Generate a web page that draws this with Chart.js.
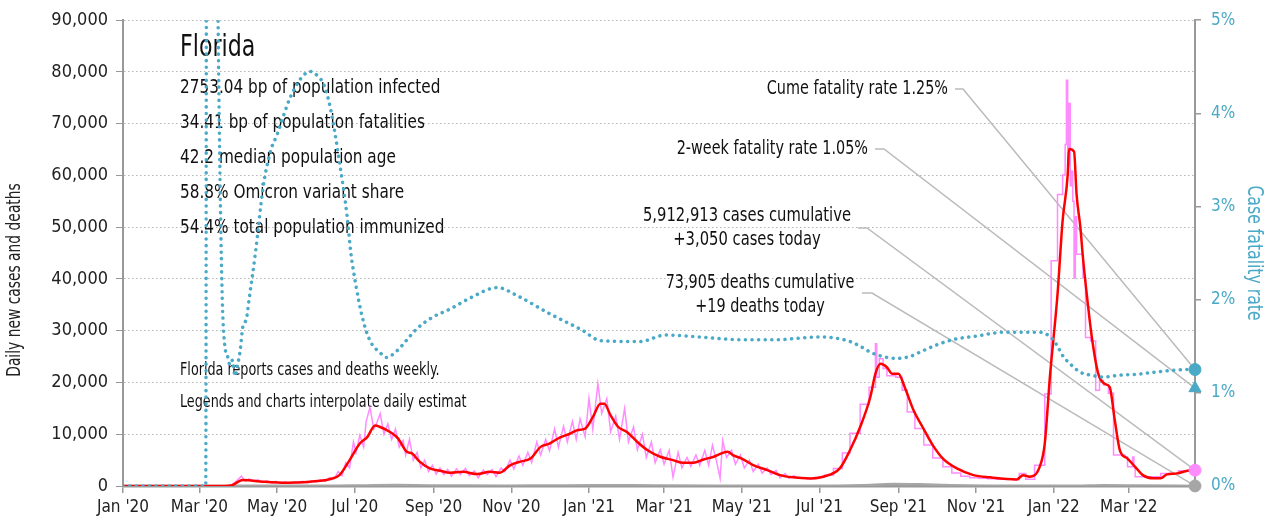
<!DOCTYPE html>
<html>
<head>
<meta charset="utf-8">
<script src="https://cdn.jsdelivr.net/npm/chart.js@4.4.0/dist/chart.umd.min.js"></script>
<style>
  html, body { margin: 0; padding: 0; background: #fff; }
</style>
</head>
<body>
<canvas id="flChart" width="1281" height="526"></canvas>
<script>
// all x values are days counted from 1 Jan 2020
const tickDates = ['2020-01-01', '2020-03-01', '2020-05-01', '2020-07-01', '2020-09-01', '2020-11-01',
  '2021-01-01', '2021-03-01', '2021-05-01', '2021-07-01', '2021-09-01', '2021-11-01',
  '2022-01-01', '2022-03-01'];
const tickLabels = ["Jan '20", "Mar '20", "May '20", "Jul '20", "Sep '20", "Nov '20",
  "Jan '21", "Mar '21", "May '21", "Jul '21", "Sep '21", "Nov '21",
  "Jan '22", "Mar '22"];
const lastDay = 842;

// daily new cases, noisy part (until June 2021)
const dailyDays = [
  0, 80, 82, 86, 90, 93, 96, 99, 103, 106,
  110, 113, 117, 120, 124, 127, 131, 134, 138, 141,
  145, 148, 152, 155, 159, 162, 166, 169, 172, 175,
  178, 181, 183, 186, 189, 191, 194, 197, 199, 202,
  205, 208, 211, 214, 217, 220, 222, 225, 228, 231,
  234, 237, 240, 243, 246, 249, 252, 255, 258, 262,
  265, 269, 272, 276, 279, 283, 286, 290, 293, 297,
  300, 304, 307, 311, 314, 318, 321, 325, 328, 332,
  335, 339, 342, 346, 349, 353, 356, 359, 363, 366,
  369, 373, 376, 380, 383, 387, 390, 394, 397, 401,
  404, 408, 411, 415, 418, 422, 425, 429, 432, 436,
  439, 443, 446, 450, 453, 457, 460, 463, 466, 469,
  471, 474, 478, 481, 485, 488, 492, 495, 499, 502,
  506, 509, 513, 516, 520, 523, 527, 530];
const dailyCases = [
  0, 0, 0, 300, 1200, 1900, 900, 1400, 1000, 1200,
  700, 1000, 600, 900, 500, 800, 500, 700, 600, 900,
  600, 1000, 800, 1200, 900, 1600, 1400, 2800, 2000, 4500,
  3500, 8500, 6500, 9800, 7500, 12500, 15200, 11000, 12000, 14000,
  10000, 12000, 9000, 11000, 7500, 8800, 6000, 9000, 5000, 6500,
  3500, 5000, 2800, 4000, 2300, 3500, 2200, 3200, 1900, 3300,
  2200, 3400, 2000, 2900, 1600, 3100, 2200, 3200, 1800, 3500,
  2800, 5000, 3300, 5800, 4000, 6500, 4500, 8500, 6000, 9000,
  6800, 11000, 7500, 11500, 8500, 12500, 9000, 13000, 9500, 16900,
  11000, 19800, 14000, 16900, 10500, 13500, 9000, 15000, 8500, 11400,
  7000, 10000, 5500, 8500, 4500, 7000, 4200, 6900, 1700, 6500,
  3500, 5500, 3800, 6000, 4000, 6900, 4000, 7900, 5000, 1500,
  8800, 5500, 6900, 4200, 6000, 3500, 5000, 2800, 4200, 2500,
  3500, 2200, 3000, 1600, 2400, 1500, 2000, 1400];

// daily new cases after the switch to weekly reporting (step values)
const weeklyDays = [
  530, 537, 544, 551, 558, 565, 571, 579, 586, 591,
  592, 594, 597, 600, 607, 612, 616, 622, 629, 636,
  644, 651, 658, 665, 672, 679, 686, 693, 700, 704,
  709, 716, 724, 729, 734, 738, 740, 741, 742, 743,
  744, 745, 746, 747, 748, 749, 754, 756, 760, 764,
  767, 770, 774, 778, 787, 789, 793, 794, 795, 815,
  829, 842];
const weeklyCases = [
  1500, 1400, 1700, 2100, 3400, 6400, 10200, 15800, 19100, 27500,
  21000, 24600, 22700, 21300, 21000, 18500, 14300, 11100, 7900, 5400,
  3700, 2500, 1900, 1600, 1500, 1400, 1300, 1300, 1200, 2400,
  1300, 4000, 17800, 43500, 56300, 60100, 66000, 78400, 62000, 73900,
  58000, 60800, 55000, 40200, 52000, 44800, 40200, 28700, 28000, 18500,
  20400, 19500, 17900, 6000, 5600, 3700, 5600, 3700, 1800, 2400,
  2940, 3050];

// 7-day average of new cases
const avgDays = [
  0, 80, 85, 94, 110, 129, 155, 163, 170, 178,
  186, 192, 198, 202, 210, 216, 223, 227, 233, 241,
  249, 257, 267, 278, 288, 296, 304, 312, 320, 328,
  335, 343, 351, 357, 363, 369, 375, 378, 383, 389,
  396, 404, 412, 422, 432, 440, 448, 456, 464, 471,
  475, 479, 486, 495, 506, 516, 526, 540, 550, 563,
  571, 579, 587, 591, 595, 600, 604, 609, 614, 621,
  628, 636, 644, 655, 668, 681, 702, 707, 712, 720,
  724, 728, 734, 738, 742, 743, 747, 749, 752, 754,
  757, 761, 766, 771, 775, 779, 783, 789, 795, 801,
  809, 815, 820, 828, 836, 842];
const avgCases = [
  0, 0, 100, 1150, 830, 630, 1000, 1350, 2100, 5000,
  8200, 9500, 11700, 11400, 10400, 9200, 6600, 6300, 4700, 3400,
  2950, 2560, 2750, 2300, 2750, 2560, 4000, 4700, 5300, 7560,
  8200, 9350, 10100, 10800, 11100, 13300, 15900, 15900, 13650, 11400,
  10400, 8500, 6900, 5650, 5000, 4480, 4480, 5130, 5650, 6400,
  6600, 5960, 5300, 4040, 3080, 2100, 1670, 1470, 1800, 3400,
  6900, 11400, 17200, 21700, 23600, 22950, 21700, 21700, 19100, 14600,
  11400, 7900, 5300, 3400, 2100, 1670, 1280, 2100, 1800, 3700,
  8200, 21000, 37000, 51200, 60100, 65100, 64600, 56300, 49900, 44100,
  37000, 28700, 21700, 19750, 19100, 12700, 6900, 5300, 3700, 2100,
  1480, 1480, 2250, 2440, 2940, 3050];

// daily deaths
const deathDays = [0, 70, 90, 120, 160, 190, 215, 240, 270, 300,
  330, 370, 400, 430, 470, 500, 540, 580, 605, 625,
  650, 680, 720, 750, 770, 800, 842];
const deaths = [0, 0, 40, 50, 40, 120, 180, 120, 80, 60,
  90, 140, 150, 90, 60, 50, 40, 150, 380, 320,
  150, 60, 40, 60, 150, 90, 19];

// case fatality rate, percent (right axis)
const cfrDays = [
  0, 65, 66, 72, 74, 76, 78, 80, 82, 84,
  86, 88, 90, 92, 94, 97, 99, 104, 110, 116,
  121, 131, 140, 147, 153, 158, 163, 170, 176, 179,
  183, 188, 194, 202, 207, 215, 231, 243, 257, 273,
  294, 310, 335, 361, 375, 406, 426, 453, 485, 512,
  547, 569, 579, 588, 600, 608, 618, 628, 642, 655,
  671, 691, 720, 730, 734, 738, 744, 752, 760, 770,
  783, 797, 809, 823, 838, 842];
const cfr = [
  0, 0, 12, 10, 6, 3.5, 2.0, 1.5, 1.4, 1.3,
  1.35, 1.18, 1.3, 1.45, 1.7, 1.8, 2.0, 2.5, 3.2, 3.6,
  3.77, 4.16, 4.38, 4.45, 4.4, 4.3, 4.05, 3.48, 2.9, 2.5,
  2.15, 1.81, 1.56, 1.43, 1.38, 1.45, 1.69, 1.81, 1.9, 2.02,
  2.13, 2.04, 1.85, 1.67, 1.56, 1.55, 1.62, 1.6, 1.57, 1.57,
  1.6, 1.56, 1.5, 1.43, 1.38, 1.37, 1.39, 1.45, 1.53, 1.58,
  1.61, 1.65, 1.65, 1.58, 1.5, 1.4, 1.31, 1.22, 1.19, 1.17,
  1.19, 1.2, 1.22, 1.24, 1.25, 1.25];

// latest figures
const cumeCfr = 1.25;
const twoWeekCfr = 1.05;
const casesCumulative = 5912913;
const casesToday = 3050;
const deathsCumulative = 73905;
const deathsToday = 19;

const stateName = 'Florida';
const stateFacts = [
  '2753.04 bp of population infected',
  '34.41 bp of population fatalities',
  '42.2 median population age',
  '58.8% Omicron variant share',
  '54.4% total population immunized'
];
const notes = [
  'Florida reports cases and deaths weekly.',
  'Legends and charts interpolate daily estimates.'
];

const origin = Date.UTC(2020, 0, 1);
const tickDays = tickDates.map(d => Math.round((Date.parse(d) - origin) / 86400000));
const pts = (xs, ys) => xs.map((x, i) => ({ x: x, y: ys[i] }));
const fmt = n => n.toLocaleString('en-US');

const FONT = "'DejaVu Sans Condensed', 'Liberation Sans Narrow', sans-serif";
const TEAL = '#4aa9c6';
const PINK = '#ff8cff';
const GREY = '#a6a6a6';

Chart.defaults.font.family = FONT;
Chart.defaults.color = '#222';

// squeezed text, the original uses a condensed face
function label(ctx, text, x, y, size, align, squeeze, rot) {
  ctx.save();
  ctx.translate(x, y);
  if (rot) ctx.rotate(rot);
  ctx.scale(squeeze, 1);
  ctx.font = size + 'px ' + FONT;
  ctx.textAlign = align;
  ctx.textBaseline = 'middle';
  ctx.fillText(text, 0, 0);
  ctx.restore();
}

// texts, leader lines
const overlay = {
  id: 'overlay',
  beforeDatasetsDraw(chart) {
    const { ctx, scales: { x, y, y1 } } = chart;
    ctx.save();
    ctx.fillStyle = '#111';
    label(ctx, stateName, 180, 48, 30, 'left', 0.82);
    stateFacts.forEach((t, i) => label(ctx, t, 180, 88 + i * 35, 20, 'left', 0.85));

    label(ctx, notes[0], 180, 371, 17, 'left', 0.835);
    ctx.save();
    ctx.beginPath();
    ctx.rect(170, 385, 297, 40);
    ctx.clip();
    label(ctx, notes[1], 180, 403, 17, 'left', 0.835);
    ctx.restore();

    // axis titles
    ctx.fillStyle = '#222';
    label(ctx, 'Daily new cases and deaths', 15, 280, 19, 'center', 0.81, -Math.PI / 2);
    ctx.fillStyle = TEAL;
    label(ctx, 'Case fatality rate', 1253, 253, 21, 'center', 0.83, Math.PI / 2);

    // annotations on the right
    ctx.fillStyle = '#111';
    label(ctx, 'Cume fatality rate ' + cumeCfr.toFixed(2) + '%', 948, 89, 20, 'right', 0.8);
    label(ctx, '2-week fatality rate ' + twoWeekCfr.toFixed(2) + '%', 868, 149, 20, 'right', 0.8);
    label(ctx, fmt(casesCumulative) + ' cases cumulative', 747, 216, 20, 'center', 0.82);
    label(ctx, '+' + fmt(casesToday) + ' cases today', 747, 240, 20, 'center', 0.82);
    label(ctx, fmt(deathsCumulative) + ' deaths cumulative', 760, 283, 20, 'center', 0.8);
    label(ctx, '+' + deathsToday + ' deaths today', 760, 307, 20, 'center', 0.8);

    const xe = x.getPixelForValue(lastDay);
    const leaders = [
      [955, 963, 89, y1.getPixelForValue(cumeCfr)],
      [875, 884, 149, y1.getPixelForValue(twoWeekCfr)],
      [858, 867, 228, y.getPixelForValue(casesToday)],
      [862, 872, 293, y.getPixelForValue(deathsToday)]
    ];
    ctx.strokeStyle = '#bbb';
    ctx.lineWidth = 1.5;
    leaders.forEach(([a, b, ty, py]) => {
      ctx.beginPath();
      ctx.moveTo(a, ty);
      ctx.lineTo(b, ty);
      ctx.lineTo(xe, py);
      ctx.stroke();
    });
    ctx.restore();
  }
};

const ctx = document.getElementById('flChart').getContext('2d');
new Chart(ctx, {
  type: 'line',
  data: {
    datasets: [
      {
        data: [{ x: lastDay, y: cumeCfr }], yAxisID: 'y1', showLine: false, clip: false,
        pointStyle: 'circle', pointRadius: 6, backgroundColor: TEAL, borderColor: TEAL
      },
      {
        data: [{ x: lastDay, y: twoWeekCfr }], yAxisID: 'y1', showLine: false, clip: false,
        pointStyle: 'triangle', pointRadius: 7, backgroundColor: TEAL, borderColor: TEAL
      },
      {
        data: [{ x: lastDay, y: casesToday }], yAxisID: 'y', showLine: false, clip: false,
        pointStyle: 'circle', pointRadius: 6, backgroundColor: PINK, borderColor: PINK
      },
      {
        data: [{ x: lastDay, y: deathsToday }], yAxisID: 'y', showLine: false, clip: false,
        pointStyle: 'circle', pointRadius: 6, backgroundColor: GREY, borderColor: GREY
      },
      {
        label: 'Case fatality rate',
        data: pts(cfrDays, cfr), yAxisID: 'y1',
        borderColor: TEAL, borderWidth: 3.5, borderDash: [0.1, 6.5], borderCapStyle: 'round',
        cubicInterpolationMode: 'monotone', pointRadius: 0
      },
      {
        label: 'Cases 7-day average',
        data: pts(avgDays, avgCases), yAxisID: 'y',
        borderColor: '#ff0000', borderWidth: 2.5, cubicInterpolationMode: 'monotone', pointRadius: 0
      },
      {
        label: 'Deaths',
        data: pts(deathDays, deaths), yAxisID: 'y',
        borderColor: GREY, borderWidth: 2.5, cubicInterpolationMode: 'monotone', pointRadius: 0
      },
      {
        label: 'Cases weekly',
        data: pts(weeklyDays, weeklyCases), yAxisID: 'y',
        borderColor: PINK, borderWidth: 1.5, stepped: true, pointRadius: 0
      },
      {
        label: 'Cases daily',
        data: pts(dailyDays, dailyCases), yAxisID: 'y',
        borderColor: PINK, borderWidth: 1.5, tension: 0, pointRadius: 0
      }
    ]
  },
  options: {
    responsive: false,
    animation: false,
    devicePixelRatio: 1,
    layout: { padding: { top: 15, left: 0, right: 0, bottom: 0 } },
    plugins: { legend: { display: false }, tooltip: { enabled: false } },
    scales: {
      x: {
        type: 'linear', min: 0, max: lastDay,
        afterBuildTicks: s => { s.ticks = tickDays.map(v => ({ value: v })); },
        afterFit: s => { s.height = 40; },
        ticks: {
          autoSkip: false, maxRotation: 0, padding: 4,
          font: { size: 17 }, color: '#222',
          callback: v => tickLabels[tickDays.indexOf(v)]
        },
        grid: { drawOnChartArea: false, drawTicks: true, tickLength: 7, color: '#999', lineWidth: 1.5 },
        border: { color: '#999', width: 2.5 }
      },
      y: {
        position: 'left', min: 0, max: 90000,
        afterFit: s => { s.width = 123; },
        ticks: { stepSize: 10000, padding: 8, font: { size: 18 }, color: '#222', callback: v => fmt(v) },
        grid: { color: '#b5b5b5', lineWidth: 1, tickLength: 7, tickColor: '#999', tickBorderDash: [] },
        border: { color: '#999', width: 2, dash: [1.5, 2.5] }
      },
      y1: {
        position: 'right', min: 0, max: 5,
        afterFit: s => { s.width = 86; },
        ticks: { stepSize: 1, padding: 10, font: { size: 17 }, color: TEAL, callback: v => v + '%' },
        grid: { drawOnChartArea: false, tickLength: 6, color: '#999', lineWidth: 1.5 },
        border: { color: '#999', width: 2 }
      }
    }
  },
  plugins: [overlay]
});
</script>
</body>
</html>
